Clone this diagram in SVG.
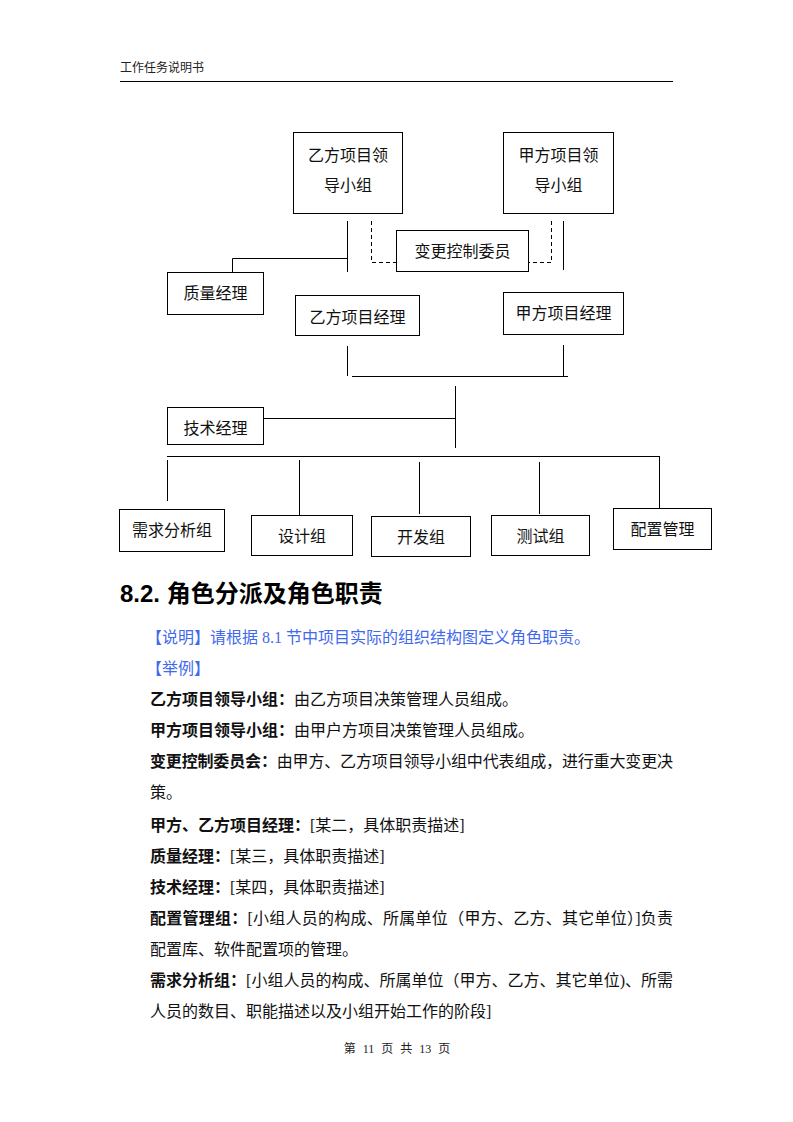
<svg xmlns="http://www.w3.org/2000/svg" width="793" height="1122" viewBox="0 0 793 1122">
<style>
.bg{fill:#fff}
.box{fill:#fff;stroke:#000;stroke-width:1}
.ln{stroke:#000;stroke-width:1;fill:none}
.dash{stroke:#000;stroke-width:1;fill:none;stroke-dasharray:4 3}
.t{font-family:"Liberation Serif","Noto Sans CJK SC",serif;font-size:16px;fill:#111}
.c{text-anchor:middle}
.b{font-weight:bold}
.blue{fill:#4169ee}
.hd{font-family:"Liberation Serif","Noto Sans CJK SC",serif;font-size:12px;fill:#222}
.ft{word-spacing:4px}
.h2{font-family:"Liberation Sans","Noto Sans CJK SC",sans-serif;font-size:24px;font-weight:bold;fill:#000}
</style>
<rect class="bg" x="0" y="0" width="793" height="1122"/>
<g id="header">
<text class="hd" x="120" y="72">工作任务说明书</text>
<line class="ln" x1="120" y1="81.5" x2="673" y2="81.5"/>
</g>
<g id="connectors">
<line class="ln" x1="347.5" y1="221" x2="347.5" y2="272"/>
<polyline class="ln" points="347.5,258.5 232.5,258.5 232.5,272"/>
<polyline class="dash" points="371.5,221 371.5,262.5 396,262.5"/>
<polyline class="dash" points="551.5,221 551.5,262.5 528,262.5"/>
<line class="ln" x1="563.5" y1="221" x2="563.5" y2="270"/>
<line class="ln" x1="347.5" y1="346" x2="347.5" y2="376"/>
<line class="ln" x1="563.5" y1="345" x2="563.5" y2="376"/>
<line class="ln" x1="352" y1="376.5" x2="568" y2="376.5"/>
<line class="ln" x1="455.5" y1="386" x2="455.5" y2="448"/>
<line class="ln" x1="263" y1="418.5" x2="455.5" y2="418.5"/>
<line class="ln" x1="167" y1="456.5" x2="659.5" y2="456.5"/>
<line class="ln" x1="167.5" y1="460" x2="167.5" y2="501"/>
<line class="ln" x1="299.5" y1="460" x2="299.5" y2="515"/>
<line class="ln" x1="419.5" y1="462" x2="419.5" y2="514"/>
<line class="ln" x1="539.5" y1="462" x2="539.5" y2="514"/>
<line class="ln" x1="659.5" y1="456" x2="659.5" y2="508"/>
</g>
<g id="yifang-leader"><rect class="box" x="293.5" y="132.5" width="109" height="81"/><text class="t c" x="348" y="161">乙方项目领</text><text class="t c" x="348" y="191">导小组</text></g>
<g id="jiafang-leader"><rect class="box" x="503.5" y="132.5" width="110" height="81"/><text class="t c" x="558.5" y="161">甲方项目领</text><text class="t c" x="558.5" y="191">导小组</text></g>
<g id="ccb"><rect class="box" x="396.5" y="230.5" width="132" height="41"/><text class="t c" x="462.5" y="257">变更控制委员</text></g>
<g id="qa"><rect class="box" x="167.5" y="272.5" width="96" height="42"/><text class="t c" x="215.5" y="299">质量经理</text></g>
<g id="yifang-pm"><rect class="box" x="295.5" y="295.5" width="124" height="40"/><text class="t c" x="357.5" y="323">乙方项目经理</text></g>
<g id="jiafang-pm"><rect class="box" x="503.5" y="292.5" width="120" height="42"/><text class="t c" x="563.5" y="319">甲方项目经理</text></g>
<g id="tech"><rect class="box" x="167.5" y="407.5" width="96" height="37"/><text class="t c" x="215.5" y="434">技术经理</text></g>
<g id="req"><rect class="box" x="119.5" y="509.5" width="105" height="42"/><text class="t c" x="172" y="536">需求分析组</text></g>
<g id="design"><rect class="box" x="251.5" y="515.5" width="101" height="40"/><text class="t c" x="302" y="542">设计组</text></g>
<g id="dev"><rect class="box" x="371.5" y="516.5" width="99" height="40"/><text class="t c" x="421" y="543">开发组</text></g>
<g id="test"><rect class="box" x="491.5" y="515.5" width="98" height="40"/><text class="t c" x="540.5" y="542">测试组</text></g>
<g id="cm"><rect class="box" x="613.5" y="508.5" width="98" height="41"/><text class="t c" x="662.5" y="535">配置管理</text></g>
<g id="body">
<text class="h2" x="120" y="602">8.2. 角色分派及角色职责</text>
<text class="t blue" x="146" y="643">【说明】请根据 8.1 节中项目实际的组织结构图定义角色职责。</text>
<text class="t blue" x="146" y="674">【举例】</text>
<text class="t" x="150" y="705"><tspan class="b">乙方项目领导小组：</tspan>由乙方项目决策管理人员组成。</text>
<text class="t" x="150" y="736"><tspan class="b">甲方项目领导小组：</tspan>由甲户方项目决策管理人员组成。</text>
<text class="t" x="150" y="767" textLength="523" lengthAdjust="spacing"><tspan class="b">变更控制委员会：</tspan>由甲方、乙方项目领导小组中代表组成，进行重大变更决</text>
<text class="t" x="150" y="798">策。</text>
<text class="t" x="150" y="831"><tspan class="b">甲方、乙方项目经理：</tspan>[某二，具体职责描述]</text>
<text class="t" x="150" y="862"><tspan class="b">质量经理：</tspan>[某三，具体职责描述]</text>
<text class="t" x="150" y="893"><tspan class="b">技术经理：</tspan>[某四，具体职责描述]</text>
<text class="t" x="150" y="924" textLength="523" lengthAdjust="spacing"><tspan class="b">配置管理组：</tspan>[小组人员的构成、所属单位（甲方、乙方、其它单位）]负责</text>
<text class="t" x="150" y="955">配置库、软件配置项的管理。</text>
<text class="t" x="150" y="986" textLength="523" lengthAdjust="spacing"><tspan class="b">需求分析组：</tspan>[小组人员的构成、所属单位（甲方、乙方、其它单位)、所需</text>
<text class="t" x="150" y="1017">人员的数目、职能描述以及小组开始工作的阶段]</text>
</g>
<g id="footer"><text class="hd c ft" x="397" y="1053">第 11 页 共 13 页</text></g>
</svg>
